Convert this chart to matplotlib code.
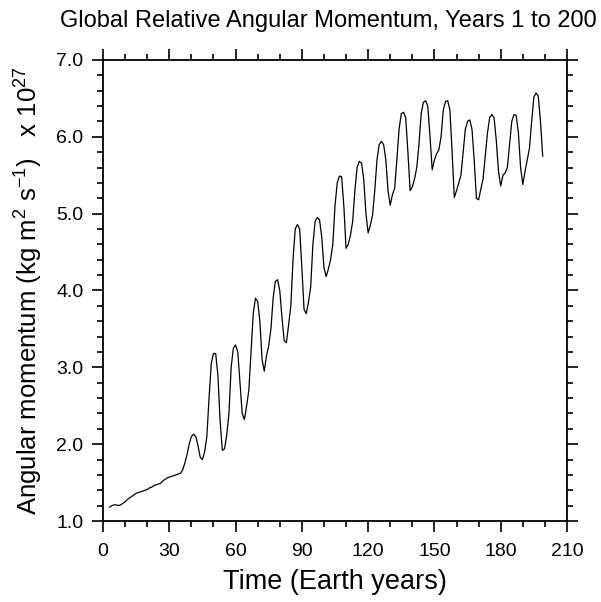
import matplotlib
matplotlib.use("Agg")
import matplotlib.pyplot as plt
from matplotlib.ticker import MultipleLocator, FormatStrFormatter

plt.rcParams['font.family'] = ['Liberation Sans', 'DejaVu Sans']
plt.rcParams['mathtext.fontset'] = 'custom'
plt.rcParams['mathtext.rm'] = 'Liberation Sans'
plt.rcParams['mathtext.it'] = 'Liberation Sans'

# global relative angular momentum (x 1e27 kg m2 s-1) by model year
years = list(range(3, 200))
amom = [
    1.18, 1.20, 1.21, 1.21, 1.20, 1.21, 1.23, 1.25, 1.28, 1.30,
    1.32, 1.34, 1.36, 1.37, 1.38, 1.39, 1.40, 1.41, 1.43, 1.44,
    1.46, 1.47, 1.48, 1.49, 1.52, 1.54, 1.56, 1.57, 1.58, 1.59,
    1.60, 1.61, 1.62, 1.66, 1.75, 1.86, 2.00, 2.10, 2.13, 2.10,
    1.98, 1.83, 1.80, 1.90, 2.10, 2.60, 3.05, 3.18, 3.18, 2.90,
    2.30, 1.92, 1.94, 2.12, 2.40, 3.00, 3.25, 3.29, 3.20, 2.80,
    2.40, 2.32, 2.50, 2.70, 3.20, 3.70, 3.90, 3.86, 3.60, 3.10,
    2.95, 3.15, 3.28, 3.50, 3.90, 4.12, 4.14, 4.00, 3.65, 3.35,
    3.32, 3.55, 3.80, 4.40, 4.80, 4.86, 4.80, 4.30, 3.75, 3.70,
    3.85, 4.05, 4.60, 4.90, 4.95, 4.92, 4.70, 4.30, 4.18, 4.28,
    4.40, 4.60, 5.10, 5.40, 5.49, 5.48, 5.10, 4.55, 4.60, 4.72,
    4.90, 5.30, 5.60, 5.68, 5.66, 5.45, 5.00, 4.75, 4.85, 4.98,
    5.30, 5.70, 5.90, 5.94, 5.90, 5.70, 5.30, 5.11, 5.25, 5.33,
    5.70, 6.10, 6.30, 6.32, 6.25, 5.80, 5.30, 5.35, 5.45, 5.60,
    5.90, 6.30, 6.45, 6.47, 6.40, 6.00, 5.57, 5.70, 5.78, 5.83,
    6.00, 6.35, 6.46, 6.47, 6.35, 5.80, 5.21, 5.30, 5.40, 5.50,
    5.80, 6.10, 6.20, 6.22, 6.10, 5.70, 5.20, 5.18, 5.32, 5.45,
    5.75, 6.05, 6.25, 6.29, 6.25, 5.95, 5.55, 5.36, 5.50, 5.53,
    5.60, 5.90, 6.20, 6.29, 6.28, 6.05, 5.60, 5.38, 5.55, 5.70,
    5.85, 6.20, 6.52, 6.57, 6.53, 6.20, 5.75,
]

fig = plt.figure(figsize=(6.01, 6.02), dpi=100)
ax = fig.add_axes([103/601, 1 - 521/602, 464/601, 461/602])

ax.plot(years, amom, color='black', lw=0.9)

ax.set_xlim(0, 210)
ax.set_ylim(1.0, 7.0)
ax.xaxis.set_major_locator(MultipleLocator(30))
ax.xaxis.set_minor_locator(MultipleLocator(10))
ax.yaxis.set_major_locator(MultipleLocator(1.0))
ax.yaxis.set_minor_locator(MultipleLocator(0.2))
ax.yaxis.set_major_formatter(FormatStrFormatter('%.1f'))

ax.tick_params(which='both', direction='out', top=True, right=True,
               width=1.2, colors='black', labelsize=14)
ax.tick_params(which='major', length=8)
ax.tick_params(which='minor', length=4.2)
ax.tick_params(axis='x', which='major', pad=8)
ax.tick_params(axis='y', which='major', pad=6)
for s in ax.spines.values():
    s.set_linewidth(1.3)

ax.set_xlabel('Time (Earth years)', fontsize=19.5, labelpad=6)
ax.set_ylabel(r'Angular momentum (kg m$^{2}$ s$^{-1}$)   x 10$^{27}$',
              fontsize=18.5, labelpad=8)
fig.text(0.546, 0.965, 'Global Relative Angular Momentum, Years 1 to 200',
         ha='center', va='center', fontsize=17)

fig.savefig('out.png', dpi=100)
